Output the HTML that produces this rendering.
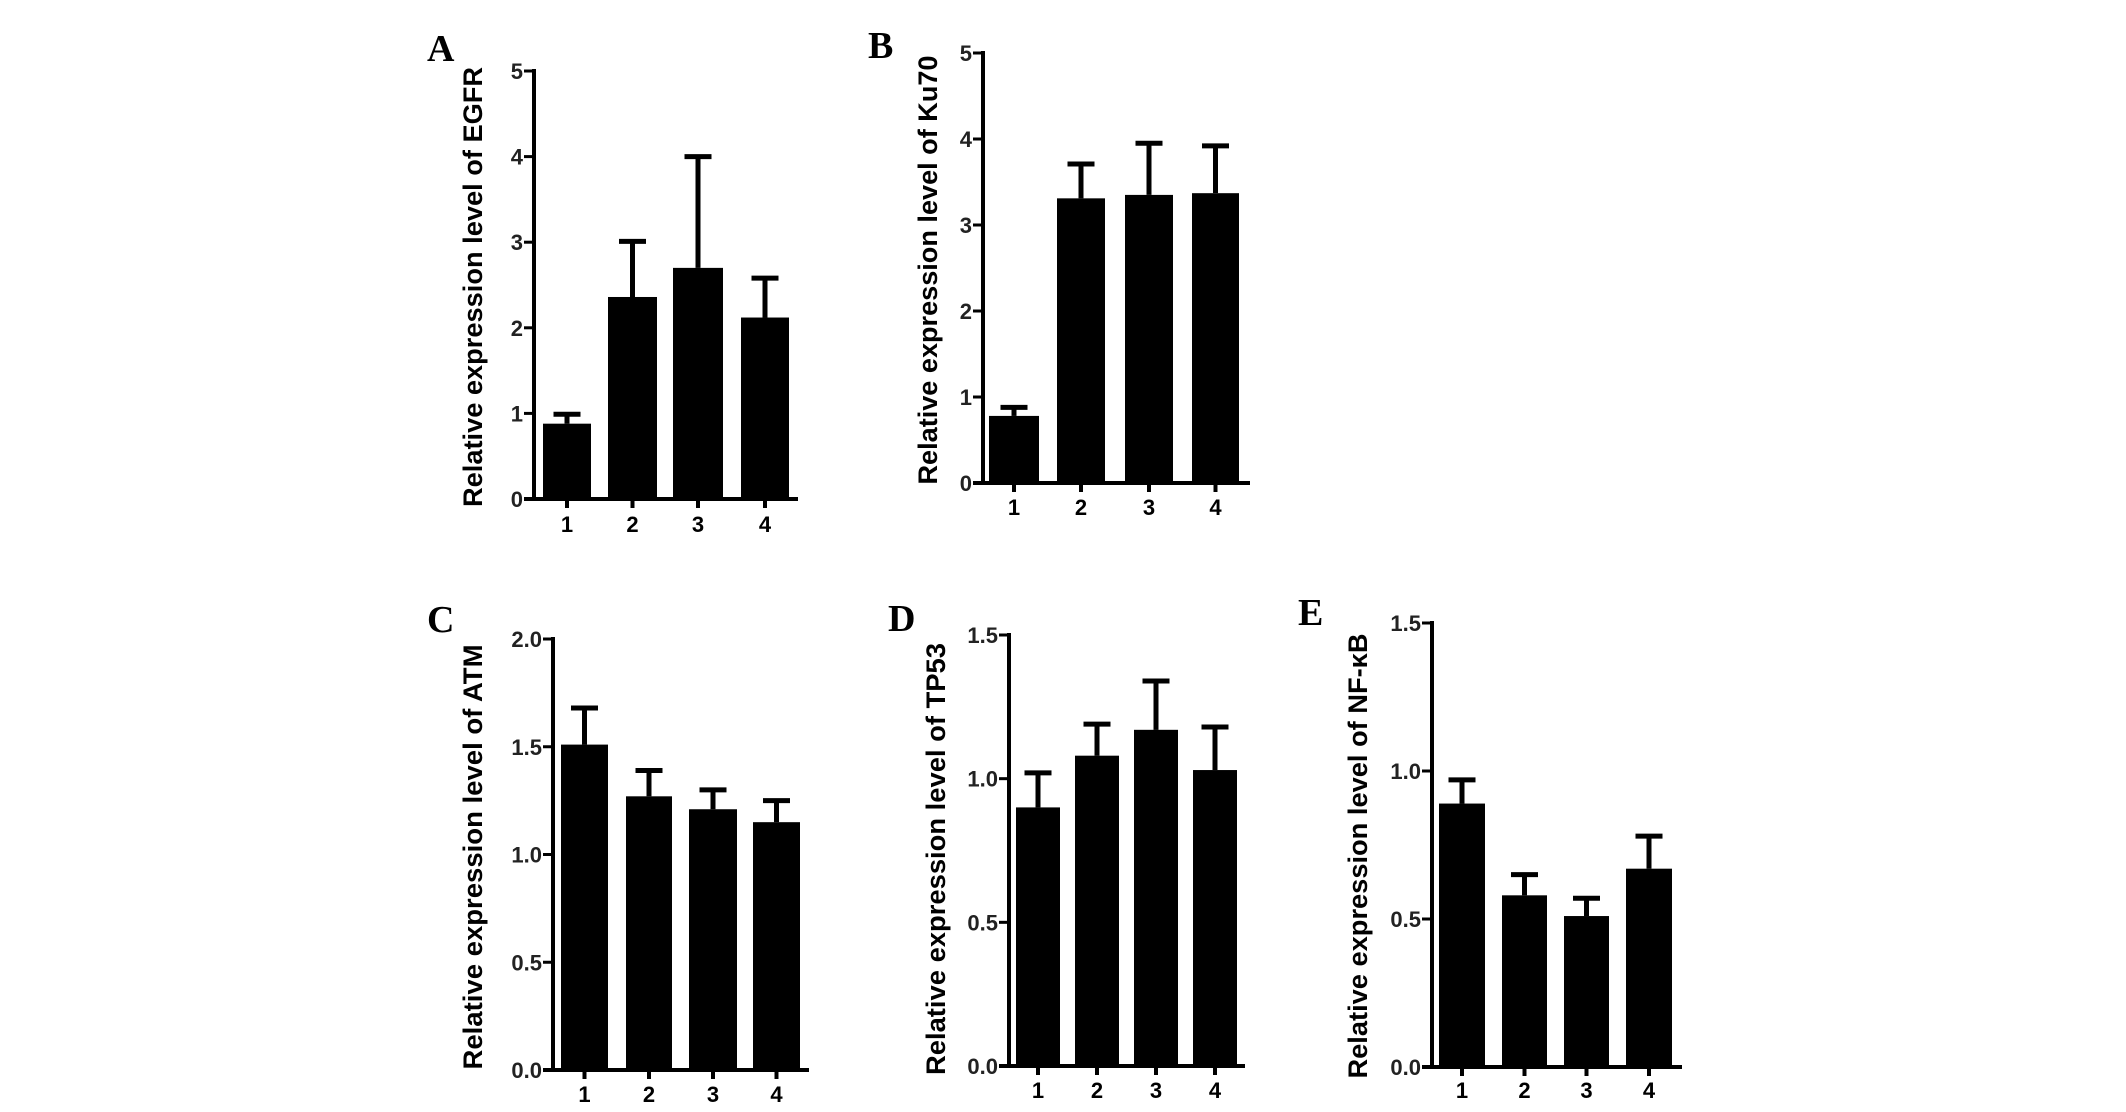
<!DOCTYPE html>
<html><head><meta charset="utf-8"><style>
html,body{margin:0;padding:0;background:#fff;}
svg{display:block;}
</style></head><body>
<svg id="fig" width="2126" height="1112" viewBox="0 0 2126 1112" xmlns="http://www.w3.org/2000/svg"></svg>
<script>
const categories = ["1","2","3","4"];
const egfrMeans = [0.88, 2.36, 2.70, 2.12];
const egfrUpper = [0.99, 3.01, 4.00, 2.58];
const ku70Means = [0.78, 3.31, 3.35, 3.37];
const ku70Upper = [0.88, 3.71, 3.95, 3.92];
const atmMeans = [1.51, 1.27, 1.21, 1.15];
const atmUpper = [1.68, 1.39, 1.30, 1.25];
const tp53Means = [0.90, 1.08, 1.17, 1.03];
const tp53Upper = [1.02, 1.19, 1.34, 1.18];
const nfkbMeans = [0.89, 0.58, 0.51, 0.67];
const nfkbUpper = [0.97, 0.65, 0.57, 0.78];
const ticksA = [0,1,2,3,4,5];
const ticksB = [0,1,2,3,4,5];
const ticksC = [0,0.5,1.0,1.5,2.0];
const ticksD = [0,0.5,1.0,1.5];
const ticksE = [0,0.5,1.0,1.5];

const panels = [
 {id:"a",letter:"A",lx:427,ly:61,ax:534,y0:499,yTop:71,max:5,xEnd:798,bars:[[543,591],[608,657],[673,723],[741,789]],means:egfrMeans,upper:egfrUpper,ticks:ticksA,dec:0,title:"Relative expression level of EGFR",tx:482,tyc:287,tlen:440,labY:532},
 {id:"b",letter:"B",lx:868,ly:58,ax:983,y0:483,yTop:53,max:5,xEnd:1250,bars:[[989,1039],[1057,1105],[1125,1173],[1192,1239]],means:ku70Means,upper:ku70Upper,ticks:ticksB,dec:0,title:"Relative expression level of Ku70",tx:937,tyc:270,tlen:429,labY:515},
 {id:"c",letter:"C",lx:427,ly:632,ax:553,y0:1070,yTop:639,max:2,xEnd:809,bars:[[561,608],[626,672],[689,737],[753,800]],means:atmMeans,upper:atmUpper,ticks:ticksC,dec:1,title:"Relative expression level of ATM",tx:482,tyc:857,tlen:425,labY:1102},
 {id:"d",letter:"D",lx:888,ly:631,ax:1009,y0:1066,yTop:635,max:1.5,xEnd:1245,bars:[[1016,1060],[1075,1119],[1134,1178],[1193,1237]],means:tp53Means,upper:tp53Upper,ticks:ticksD,dec:1,title:"Relative expression level of TP53",tx:945,tyc:859,tlen:432,labY:1098},
 {id:"e",letter:"E",lx:1298,ly:625,ax:1432,y0:1067,yTop:623,max:1.5,xEnd:1682,bars:[[1439,1485],[1502,1547],[1564,1609],[1626,1672]],means:nfkbMeans,upper:nfkbUpper,ticks:ticksE,dec:1,title:"Relative expression level of NF-\u03baB",tx:1367,tyc:856,tlen:445,labY:1098}
];
const NS="http://www.w3.org/2000/svg";
const svg=document.getElementById('fig');
function mk(tag,parent){const e=document.createElementNS(NS,tag);parent.appendChild(e);return e;}
panels.forEach(p=>{
  const g=mk('g',svg);
  
  
  const yS=v=>p.y0-(v/p.max)*(p.y0-p.yTop);
  const L=mk('text',g);
  
  
  L.setAttribute('x',p.lx);L.setAttribute('y',p.ly);
  L.setAttribute('font-family','"Liberation Serif", serif');L.setAttribute('font-weight','bold');L.setAttribute('font-size','38');
  L.textContent=p.letter;
  const T=mk('text',g);
  
  
  T.setAttribute('transform','translate('+p.tx+','+p.tyc+') rotate(-90)');
  T.setAttribute('text-anchor','middle');
  T.setAttribute('font-family','"Liberation Sans", sans-serif');T.setAttribute('font-weight','bold');T.setAttribute('font-size','27');
  T.setAttribute('textLength',p.tlen);T.setAttribute('lengthAdjust','spacingAndGlyphs');
  T.textContent=p.title;
  p.means.forEach((m,i)=>{
    const [x1,x2]=p.bars[i];const cx=(x1+x2)/2;
    const eb=mk('line',g);
    
    
    eb.setAttribute('x1',cx);eb.setAttribute('x2',cx);eb.setAttribute('y1',yS(m));eb.setAttribute('y2',yS(p.upper[i]));
    eb.setAttribute('stroke','#000');eb.setAttribute('stroke-width','5');
    const cap=mk('line',g);
    
    
    cap.setAttribute('x1',cx-13.5);cap.setAttribute('x2',cx+13.5);cap.setAttribute('y1',yS(p.upper[i]));cap.setAttribute('y2',yS(p.upper[i]));
    cap.setAttribute('stroke','#000');cap.setAttribute('stroke-width','5');
    const r=mk('rect',g);
    
    
    r.setAttribute('x',x1);r.setAttribute('width',x2-x1);r.setAttribute('y',yS(m));r.setAttribute('height',p.y0-yS(m));
    r.setAttribute('fill','#000');
    const xt=mk('line',g);
    
    
    xt.setAttribute('x1',cx);xt.setAttribute('x2',cx);xt.setAttribute('y1',p.y0);xt.setAttribute('y2',p.y0+9);
    xt.setAttribute('stroke','#000');xt.setAttribute('stroke-width','4');
    const xl=mk('text',g);
    
    
    xl.setAttribute('x',cx);xl.setAttribute('y',p.labY);xl.setAttribute('text-anchor','middle');
    xl.setAttribute('font-family','"Liberation Sans", sans-serif');xl.setAttribute('font-weight','bold');xl.setAttribute('font-size','22');
    xl.textContent=categories[i];
  });
  const ya=mk('line',g);
  
  
  ya.setAttribute('x1',p.ax);ya.setAttribute('x2',p.ax);ya.setAttribute('y1',p.yTop-2);ya.setAttribute('y2',p.y0+2);
  ya.setAttribute('stroke','#000');ya.setAttribute('stroke-width','4');
  const xa=mk('line',g);
  
  
  xa.setAttribute('x1',p.ax-10);xa.setAttribute('x2',p.xEnd);xa.setAttribute('y1',p.y0);xa.setAttribute('y2',p.y0);
  xa.setAttribute('stroke','#000');xa.setAttribute('stroke-width','4');
  p.ticks.forEach(t=>{
    const y=yS(t);
    const tk=mk('line',g);
    
    
    tk.setAttribute('x1',p.ax-10);tk.setAttribute('x2',p.ax);tk.setAttribute('y1',y);tk.setAttribute('y2',y);
    tk.setAttribute('stroke','#000');tk.setAttribute('stroke-width','3');
    const tl=mk('text',g);
    
    
    tl.setAttribute('x',p.ax-11);tl.setAttribute('y',y+8);tl.setAttribute('text-anchor','end');
    tl.setAttribute('font-family','"Liberation Sans", sans-serif');tl.setAttribute('font-weight','bold');tl.setAttribute('font-size','22');
    tl.setAttribute('fill','#222');
    tl.textContent=t.toFixed(p.dec);
  });
});
</script>
</body></html>
